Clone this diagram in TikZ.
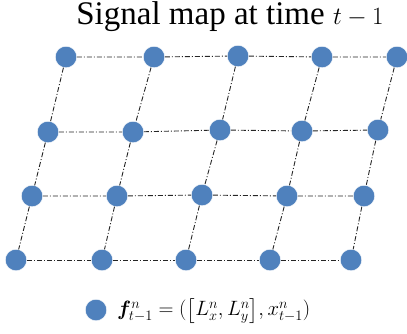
\documentclass[tikz,border=0pt]{standalone}
\usepackage{amsmath,bm}
\usepackage{fontspec}
\setmainfont{Liberation Serif}
\definecolor{dotblue}{RGB}{79,129,189}
\begin{document}
\begin{tikzpicture}[x=1pt,y=-1pt,
  dot/.style={circle,fill=dotblue,draw=white,line width=0.4pt,minimum size=21.5pt,inner sep=0pt},
  link/.style={line width=0.9pt,black!85,dash pattern=on 5pt off 2pt on 1pt off 2pt}]
\useasboundingbox (0,0) rectangle (407,333);
\node[font=\fontsize{33}{38}\selectfont,inner sep=0pt] (title) at (230,17) {Signal map at time $t-1$};
% row 1
\node[dot] (a1) at (66,57) {};
\node[dot] (a2) at (154,57) {};
\node[dot] (a3) at (238,56) {};
\node[dot] (a4) at (322,57) {};
\node[dot] (a5) at (397,57) {};
% row 2
\node[dot] (b1) at (48,132) {};
\node[dot] (b2) at (133,132) {};
\node[dot] (b3) at (220,130) {};
\node[dot] (b4) at (302,131) {};
\node[dot] (b5) at (378,130) {};
% row 3
\node[dot] (c1) at (32,196) {};
\node[dot] (c2) at (117,196) {};
\node[dot] (c3) at (202,195) {};
\node[dot] (c4) at (287,196) {};
\node[dot] (c5) at (364,196) {};
% row 4
\node[dot] (d1) at (16,260) {};
\node[dot] (d2) at (102,260) {};
\node[dot] (d3) at (186,260) {};
\node[dot] (d4) at (270,260) {};
\node[dot] (d5) at (351,260) {};
\foreach \r in {a,b,c,d}{
  \draw[link] (\r1) -- (\r2) -- (\r3) -- (\r4) -- (\r5);
}
\foreach \i in {1,...,5}{
  \draw[link] (a\i) -- (b\i) -- (c\i) -- (d\i);
}
% legend
\node[dot] (leg) at (96,310) {};
\node[anchor=west,font=\fontsize{20.5}{24}\selectfont,inner sep=0pt] (legtext) at (117,311)
  {$\bm{f}_{t-1}^{n}=(\bigl[L_x^n,L_y^n\bigr],x_{t-1}^n)$};
\end{tikzpicture}
\end{document}
